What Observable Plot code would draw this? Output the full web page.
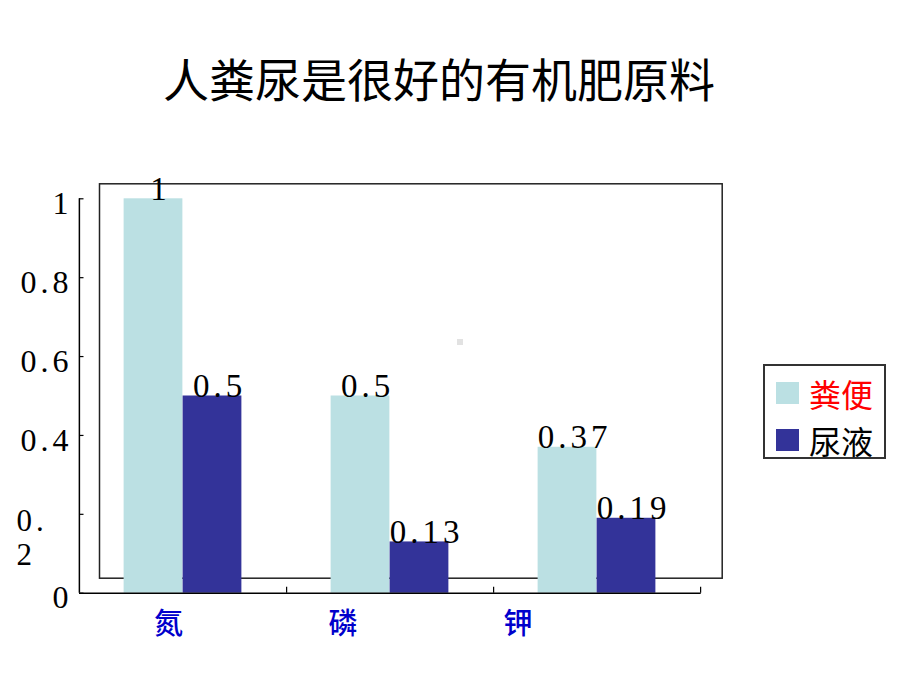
<!DOCTYPE html>
<html>
<head>
<meta charset="utf-8">
<script src="https://cdn.jsdelivr.net/npm/d3@7"></script>
<script src="https://cdn.jsdelivr.net/npm/@observablehq/plot@0.6"></script>
<style>
  html, body { margin: 0; padding: 0; background: #fff; }
  #wrap { position: relative; width: 920px; height: 690px; overflow: hidden; }
  #title { height: 76px; padding-top: 54px; padding-left: 163px; font-family: "Noto Sans CJK SC", sans-serif;
           font-size: 46px; line-height: 46px; font-weight: 400; color: #000; white-space: nowrap; }
  #legend { position: absolute; left: 763px; top: 364px; width: 119px; height: 91px; border: 2px solid #333;
            font-family: "Noto Sans CJK SC", sans-serif; font-size: 32px; }
  #speck { position: absolute; left: 457px; top: 339px; width: 6px; height: 6px; background: #E2E2E2; }
  .sw { position: absolute; left: 11px; width: 23px; height: 22px; }
  .lt { position: absolute; left: 44px; line-height: 32px; white-space: nowrap; }
  g[aria-description="value-labels"] text { letter-spacing: 4px; }
  g[aria-label="y-axis tick label"] text, g[aria-description="y-tick-wrap"] text { letter-spacing: 4px; }
</style>
</head>
<body>
<div id="wrap">
  <div id="title"></div>
  <div id="chart"></div>
  <div id="legend"></div>
  <div id="speck"></div>
</div>
<script>
const titleText = "人粪尿是很好的有机肥原料";
const categories = ["氮", "磷", "钾"];
const series = ["粪便", "尿液"];
const fenbian = [1, 0.5, 0.37];
const niaoye = [0.5, 0.13, 0.19];
const yTicks = [0, 0.2, 0.4, 0.6, 0.8, 1];
const yTickLabels = ["0", "0.\n2", "0.4", "0.6", "0.8", "1"];
const colors = ["#BBE0E3", "#333399"];
const legendTextColors = ["#FF0000", "#000000"];

document.getElementById("title").textContent = titleText;

const W = 920, H = 560;
const mL = 79, mR = 219.3, mT = 68.3, mB = 97.3;
const plotW = W - mL - mR, plotH = H - mT - mB;
const bw = plotW / categories.length;
const barW = 59;

const rowsA = categories.map((c, i) => ({cat: c, v: fenbian[i]}));
const rowsB = categories.map((c, i) => ({cat: c, v: niaoye[i]}));
const catShift = [-14.6, -46.9, -79.1];

const normalTicks = yTicks.filter((t, i) => !yTickLabels[i].includes("\n"));
const wrapTicks = yTicks.filter((t, i) => yTickLabels[i].includes("\n"));
const labelOf = t => yTickLabels[yTicks.indexOf(t)];

const chart = Plot.plot({
  width: W, height: H,
  marginLeft: mL, marginRight: mR, marginTop: mT, marginBottom: mB,
  x: {type: "band", domain: categories, padding: 0, axis: null},
  y: {domain: [0, 1], axis: null},
  style: {fontFamily: "'Liberation Serif', 'Times New Roman', serif", background: "transparent", overflow: "visible", color: "#000"},
  marks: [
    Plot.frame({insetLeft: 20, insetRight: -21, insetTop: -15, insetBottom: 15, stroke: "#222", strokeWidth: 1.5}),
    Plot.barY(rowsA, {x: "cat", y: "v", fill: colors[0], insetLeft: bw / 2 - barW, insetRight: bw / 2}),
    Plot.barY(rowsB, {x: "cat", y: "v", fill: colors[1], insetLeft: bw / 2, insetRight: bw / 2 - barW}),
    Plot.text(rowsA, {x: "cat", y: "v", text: d => String(d.v), dx: -barW / 2 + 7, dy: 1, lineAnchor: "bottom", fontSize: 33, fill: "#000", ariaDescription: "value-labels"}),
    Plot.text(rowsB, {x: "cat", y: "v", text: d => String(d.v), dx: barW / 2 + 7, dy: 1, lineAnchor: "bottom", fontSize: 33, fill: "#000", ariaDescription: "value-labels"}),
    Plot.ruleY([0], {stroke: "#000", strokeWidth: 1.5}),
    Plot.ruleX([categories[0]], {x: d => d, y1: 0, y2: 1, dx: -bw / 2, stroke: "#000", strokeWidth: 1.5}),
    Plot.tickY(yTicks, {y: d => d, insetRight: plotW - 4.5, stroke: "#000", strokeWidth: 1.2}),
    Plot.tickX(categories, {x: d => d, dx: bw / 2, insetTop: plotH - 6, stroke: "#000", strokeWidth: 1.2}),
    Plot.axisY(normalTicks, {tickSize: 0, tickPadding: 7, dy: 5, fontSize: 32, label: null, tickFormat: labelOf, fill: "#000"}),
    Plot.text(wrapTicks, {y: d => d, text: labelOf, frameAnchor: "left", textAnchor: "start", dx: -63, dy: -8, lineAnchor: "top", lineHeight: 1.1, fontSize: 31, fill: "#000", ariaDescription: "y-tick-wrap"}),
    ...categories.map((c, i) => Plot.text([c], {x: d => d, y: () => 0, text: d => d, dx: catShift[i], dy: 32, fontSize: 29, fill: "#0000CC", fontFamily: "'Noto Sans CJK SC', sans-serif", fontWeight: 500}))
  ]
});
document.getElementById("chart").appendChild(chart);

const legend = document.getElementById("legend");
series.forEach((s, i) => {
  const top = 16 + i * 47;
  const sw = document.createElement("div");
  sw.className = "sw";
  sw.style.top = top + "px";
  sw.style.background = colors[i];
  legend.appendChild(sw);
  const t = document.createElement("div");
  t.className = "lt";
  t.style.top = (top - 5) + "px";
  t.style.color = legendTextColors[i];
  t.textContent = s;
  legend.appendChild(t);
});
</script>
</body>
</html>
